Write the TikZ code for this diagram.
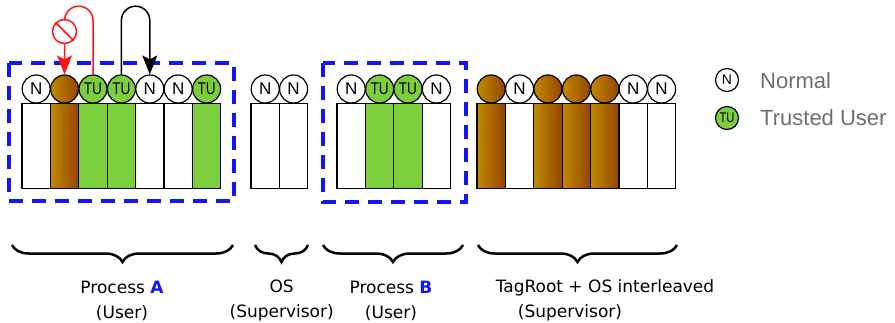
\documentclass[tikz,border=0pt]{standalone}
\usepackage{fontspec}
\setmainfont{Liberation Sans}
\newfontfamily\lblfont{DejaVu Sans}
\usetikzlibrary{decorations.pathreplacing,arrows.meta}
\definecolor{tugreen}{RGB}{125,206,60}
\definecolor{brA}{RGB}{192,138,0}
\definecolor{brB}{RGB}{214,176,8}
\definecolor{brC}{RGB}{150,68,0}
\definecolor{dashblue}{RGB}{20,20,245}
\definecolor{leggray}{RGB}{110,110,110}
\definecolor{arrred}{RGB}{255,20,20}
\newcommand\tutxt{\scalebox{0.8}[1]{TU}}
\begin{document}
\begin{tikzpicture}[x=1pt,y=-1pt,
 bar/.style={draw, line width=1.2pt, minimum width=28.4pt, minimum height=85pt, inner sep=0pt, anchor=north},
 barn/.style={bar, fill=white},
 bart/.style={bar, fill=tugreen},
 barr/.style={bar, left color=brA, middle color=brB, right color=brC},
 tag/.style={circle, draw, line width=1.2pt, minimum size=28pt, inner sep=0pt, font=\fontsize{17}{17}\selectfont},
 tagn/.style={tag, fill=white},
 tagt/.style={tag, fill=tugreen},
 tagr/.style={tag, left color=brA, middle color=brB, right color=brC},
 dbox/.style={draw=dashblue, line width=3.5pt, dash pattern=on 14pt off 9pt},
 brc/.style={decorate, decoration={brace, mirror, amplitude=17pt}, line width=2.5pt},
 lbl/.style={font=\lblfont\fontsize{17}{25}\selectfont, align=center, inner sep=0pt},
 lgt/.style={anchor=west, inner sep=0pt, text=leggray, font=\fontsize{22}{22}\selectfont},
 tip/.style={-{Stealth[length=19pt,width=15pt,inset=4pt]}},
]
\useasboundingbox (0,0) rectangle (895,322);

% dashed boxes
\draw[dbox] (9,63) rectangle (234,201);
\draw[dbox] (323,63) rectangle (466,202);

% Process A
\foreach \k/\s [count=\i] in {n/N,r/{},t/\tutxt,t/\tutxt,n/N,n/N,t/\tutxt}{
  \node[bar\k] (Abar\i) at ({22+28.4*(\i-0.5)},103) {};
  \node[tag\k] (A\i) at ({22+28.4*(\i-0.5)},89) {\s};
}
% OS
\foreach \k/\s [count=\i] in {n/N,n/N}{
  \node[bar\k] (Obar\i) at ({251+28.4*(\i-0.5)},103) {};
  \node[tag\k] (O\i) at ({251+28.4*(\i-0.5)},89) {\s};
}
% Process B
\foreach \k/\s [count=\i] in {n/N,t/\tutxt,t/\tutxt,n/N}{
  \node[bar\k] (Bbar\i) at ({337+28.4*(\i-0.5)},103) {};
  \node[tag\k] (B\i) at ({337+28.4*(\i-0.5)},89) {\s};
}
% TagRoot + OS
\foreach \k/\s [count=\i] in {r/{},n/N,r/{},r/{},r/{},n/N,n/N}{
  \node[bar\k] (Tbar\i) at ({477+28.4*(\i-0.5)},103) {};
  \node[tag\k] (T\i) at ({477+28.4*(\i-0.5)},89) {\s};
}

% red forbidden access
\node[circle, draw=arrred, line width=1.5pt, minimum size=24pt, inner sep=0pt] (nosign) at (64.5,31.5) {};
\draw[arrred, line width=1.5pt] (nosign.north west) -- (nosign.south east);
\draw[arrred, line width=1.5pt] (A3.north) -- ++(0,-54) arc[start angle=0, end angle=180, radius=14.2pt] -- (nosign.north);
\draw[arrred, line width=1.5pt, tip] (nosign.south) -- (A2.north);

% black allowed access
\draw[black, line width=1.5pt, tip] (A4.north) -- ++(0,-54) arc[start angle=180, end angle=0, radius=14.2pt] -- (A5.north);

% braces
\draw[brc] (12,245) -- (233,245);
\draw[brc] (255,245) -- (308,245);
\draw[brc] (323,245) -- (463,245);
\draw[brc] (478,245) -- (677,245);

% labels
\node[lbl] (labA) at (122,300.5) {Process {\color{dashblue}\bfseries A}\\(User)};
\node[lbl] (labO) at (281.7,300.5) {OS\\(Supervisor)};
\node[lbl] (labB) at (391,300.5) {Process {\color{dashblue}\bfseries B}\\(User)};
\node[lbl] (labT1) at (605,288) {TagRoot + OS interleaved};
\node[lbl] (labT2) at (570,313) {(Supervisor)};

% legend
\node[tagn, minimum size=23pt, font=\fontsize{14}{14}\selectfont] (legN) at (727,80) {N};
\node[lgt] (legNt) at (760,80.5) {Normal};
\node[tagt, minimum size=23pt, font=\fontsize{14}{14}\selectfont] (legT) at (727,118) {\tutxt};
\node[lgt] (legTt) at (760,118) {Trusted User};
\end{tikzpicture}
\end{document}
